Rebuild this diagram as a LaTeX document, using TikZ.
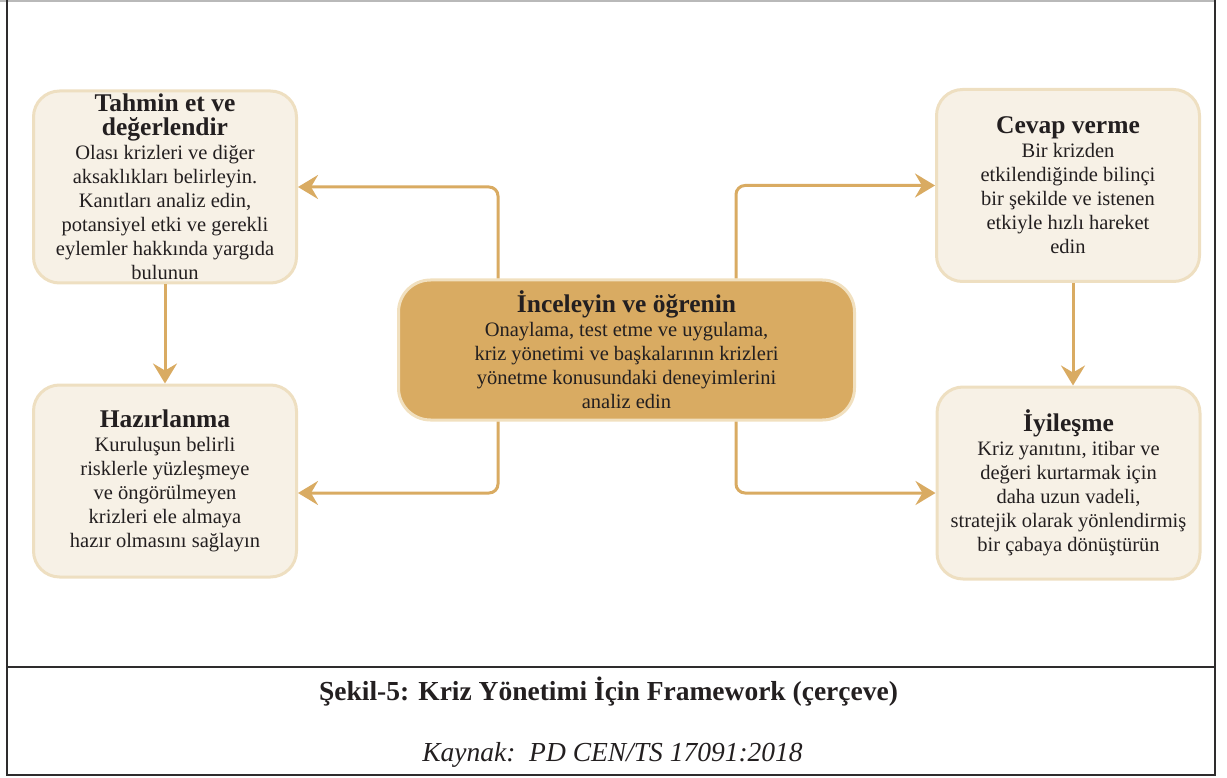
\documentclass[tikz,border=0pt]{standalone}
\usepackage{fontspec}
\setmainfont{Liberation Serif}
\usetikzlibrary{arrows.meta}
\definecolor{boxfill}{HTML}{F7F1E6}
\definecolor{boxline}{HTML}{EEDFC1}
\definecolor{gold}{HTML}{D9AB62}
\definecolor{goldline}{HTML}{F1E0BF}
\definecolor{ink}{HTML}{231F20}
\definecolor{framecol}{HTML}{2E2C2D}
\newcommand\hd[1]{{\fontsize{25.5}{24}\selectfont\bfseries #1}}
\tikzset{
  sidebox/.style={draw=boxline, fill=boxfill, line width=3pt, rounded corners=26pt,
    minimum width=263pt, minimum height=192pt, align=center, text=ink,
    inner sep=0pt, font=\fontsize{20.5}{24}\selectfont},
  centerbox/.style={draw=goldline, fill=gold, line width=3pt, rounded corners=32pt,
    minimum width=456pt, minimum height=140pt, align=center, text=ink,
    inner sep=0pt, font=\fontsize{20.5}{24}\selectfont},
  arr/.style={draw=gold, line width=3pt, rounded corners=9pt,
    -{Stealth[length=20pt,width=24pt,inset=7pt]}},
  frameline/.style={draw=framecol, line width=2.2pt},
}
\begin{document}
\begin{tikzpicture}[x=1pt,y=-1pt]
\useasboundingbox (0,0) rectangle (1227,778);
% frame
\draw[gray!55, line width=1.6pt] (0,0.8) -- (1215,0.8);
\draw[frameline] (7,0) -- (7,776);
\draw[frameline] (1215,0) -- (1215,776);
\draw[frameline] (7,667) -- (1215,667);
\draw[frameline] (7,775) -- (1215,775);
% boxes
\node[sidebox] (tl) at (165,187) {\hd{Tahmin et ve}\\\hd{değerlendir}\\Olası krizleri ve diğer\\aksaklıkları belirleyin.\\Kanıtları analiz edin,\\potansiyel etki ve gerekli\\eylemler hakkında yargıda\\bulunun};
\node[sidebox] (hz) at (165,481) {\hd{Hazırlanma}\\Kuruluşun belirli\\risklerle yüzleşmeye\\ve öngörülmeyen\\krizleri ele almaya\\hazır olmasını sağlayın};
\node[sidebox] (cv) at (1068,185.5) {\hd{Cevap verme}\\Bir krizden\\etkilendiğinde bilinçi\\bir şekilde ve istenen\\etkiyle hızlı hareket\\edin};
\node[sidebox] (iy) at (1068.5,483) {\hd{İyileşme}\\Kriz yanıtını, itibar ve\\değeri kurtarmak için\\daha uzun vadeli,\\stratejik olarak yönlendirmiş\\bir çabaya dönüştürün};
\node[centerbox] (c) at (626.5,350) {\hd{İnceleyin ve öğrenin}\\Onaylama, test etme ve uygulama,\\kriz yönetimi ve başkalarının krizleri\\yönetme konusundaki deneyimlerini\\analiz edin};
% connectors
\draw[arr] ([xshift=-128.5pt]c.north) |- (tl.east);
\draw[arr] ([xshift=-128.5pt]c.south) |- ([yshift=-12pt]hz.east);
\draw[arr] ([xshift=109.5pt]c.north) |- (cv.west);
\draw[arr] ([xshift=109.5pt]c.south) |- ([yshift=-10pt]iy.west);
\draw[arr] (tl.south) -- (hz.north);
\draw[arr] ([xshift=5pt]cv.south) -- ([xshift=4.5pt]iy.north);
% captions
\node[text=ink, font=\fontsize{27.5}{30}\selectfont\bfseries] (cap) at (608.5,692) {Şekil-5: Kriz Yönetimi İçin Framework (çerçeve)};
\node[text=ink, font=\fontsize{27.5}{30}\selectfont\itshape] (src) at (612.5,755) {Kaynak:\ \ PD CEN/TS 17091:2018};
\end{tikzpicture}
\end{document}
